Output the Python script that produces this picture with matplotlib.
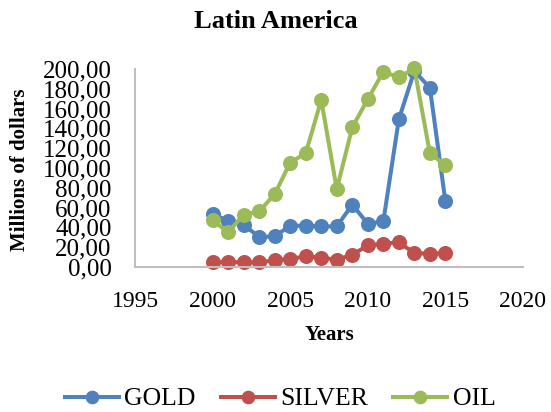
import matplotlib
matplotlib.use("Agg")
import matplotlib.pyplot as plt
from matplotlib.ticker import FuncFormatter

years = [2000, 2001, 2002, 2003, 2004, 2005, 2006, 2007, 2008, 2009, 2010, 2011, 2012, 2013, 2014, 2015]
gold = [53.4, 46.7, 42.7, 30.2, 30.9, 41.7, 41.7, 41.0, 41.0, 62.9, 43.7, 46.0, 149.2, 198.0, 181.0, 66.2]
silver = [5.0, 5.0, 4.7, 4.7, 6.7, 8.1, 10.8, 9.4, 7.4, 12.4, 21.8, 23.5, 24.9, 14.1, 13.4, 14.1]
oil = [47.1, 35.3, 52.8, 56.1, 73.6, 105.5, 114.9, 168.7, 78.6, 141.2, 169.4, 197.3, 191.6, 200.7, 114.9, 102.8]
series_names = ["GOLD", "SILVER", "OIL"]
colors = ["#4F81BD", "#C0504D", "#9BBB59"]
x_ticks = [1995, 2000, 2005, 2010, 2015, 2020]
y_ticks = list(range(0, 201, 20))

plt.rcParams['font.family'] = ['Liberation Serif', 'DejaVu Serif']

fig = plt.figure(figsize=(5.51, 4.12), dpi=100)
ax = fig.add_axes([135/551, 1-267/412, (523-135)/551, (267-69)/412])

for vals, name, c in zip([gold, silver, oil], series_names, colors):
    ax.plot(years, vals, color=c, lw=2.9, marker='o', markersize=9.8, label=name, clip_on=False)

ax.set_xlim(1995, 2020)
ax.set_ylim(0, 200)
ax.set_xticks(x_ticks)
ax.set_yticks(y_ticks)
ax.yaxis.set_major_formatter(FuncFormatter(lambda v, p: f"{v:.2f}".replace('.', ',')))
ax.tick_params(axis='both', length=0, labelsize=17)
ax.tick_params(axis='y', pad=17, labelsize=18)
ax.tick_params(axis='x', pad=17)
for s in ['top', 'right']:
    ax.spines[s].set_visible(False)
for s in ['left', 'bottom']:
    ax.spines[s].set_color('#BFBFBF')
    ax.spines[s].set_linewidth(1.5)

fig.text(276/551, 1-22/412, "Latin America", ha='center', va='center', fontsize=19, fontweight='bold')
fig.text(20/551, 1-169.5/412, "Millions of dollars", ha='center', va='center', rotation=90, fontsize=15, fontweight='bold')
fig.text(329/551, 1-335/412, "Years", ha='center', va='center', fontsize=15, fontweight='bold')

fig.legend(loc='center', bbox_to_anchor=(280/551, 1-399/412), ncol=3, frameon=False,
           fontsize=18.5, handlelength=2.1, handletextpad=0.2, columnspacing=1.0, markerscale=0.9,
           borderpad=0.2)

fig.savefig("out.png", dpi=100)
